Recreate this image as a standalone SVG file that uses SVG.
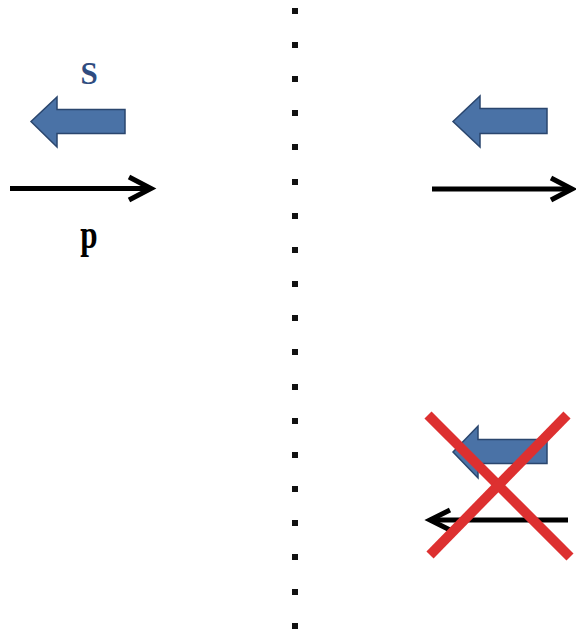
<svg xmlns="http://www.w3.org/2000/svg" width="576" height="632" viewBox="0 0 576 632">
<style>
.blk{fill:#4A72A6;stroke:#2A466E;stroke-width:1.5;stroke-linejoin:miter}
.ln{fill:none;stroke:#000;stroke-width:5;stroke-linecap:butt;stroke-linejoin:miter}
.dot{fill:#111}
.lbl{font-family:"Liberation Serif",serif;font-weight:bold;text-anchor:middle}
.x{stroke:#DD3030;stroke-width:10;stroke-linecap:butt}
</style>
<defs>
<rect id="d" x="-3" y="-3" width="6" height="6" class="dot"/>
</defs>
<g id="divider">
<use href="#d" x="295" y="11"/><use href="#d" x="295" y="45"/><use href="#d" x="295" y="79"/><use href="#d" x="295" y="113"/><use href="#d" x="295" y="147"/><use href="#d" x="295" y="182"/><use href="#d" x="295" y="216"/><use href="#d" x="295" y="250"/><use href="#d" x="295" y="284"/><use href="#d" x="295" y="318"/><use href="#d" x="295" y="352"/><use href="#d" x="295" y="387"/><use href="#d" x="295" y="421"/><use href="#d" x="295" y="455"/><use href="#d" x="295" y="489"/><use href="#d" x="295" y="523"/><use href="#d" x="295" y="557"/><use href="#d" x="295" y="592"/><use href="#d" x="295" y="626"/>
</g>
<g id="left">
<text class="lbl" x="89" y="84" font-size="31" fill="#2F4C80">S</text>
<polygon class="blk" points="31,121.5 57,97 57,109.5 125,109.5 125,133.5 57,133.5 57,147"/>
<g class="ln"><line x1="10" y1="188.5" x2="150" y2="188.5"/><polyline points="129,177 151,188.5 129,200"/></g>
<text class="lbl" transform="translate(89 248) scale(0.8 1)" x="0" y="0" font-size="39" fill="#000">p</text>
</g>
<g id="right-top">
<polygon class="blk" points="453,121.5 480,96 480,108.5 547,108.5 547,133.5 480,133.5 480,147"/>
<g class="ln"><line x1="432" y1="189" x2="570" y2="189"/><polyline points="551,178 572,189 551,200"/></g>
</g>
<g id="right-bottom">
<polygon class="blk" points="453,452 478,426 478,439.5 547,439.5 547,463.5 478,463.5 478,478"/>
<g class="ln"><line x1="430" y1="520" x2="568" y2="520"/><polyline points="450,510 430,520 450,530"/></g>
<line class="x" x1="428" y1="415" x2="570" y2="557"/>
<line class="x" x1="567" y1="415" x2="430" y2="555"/>
</g>
</svg>
